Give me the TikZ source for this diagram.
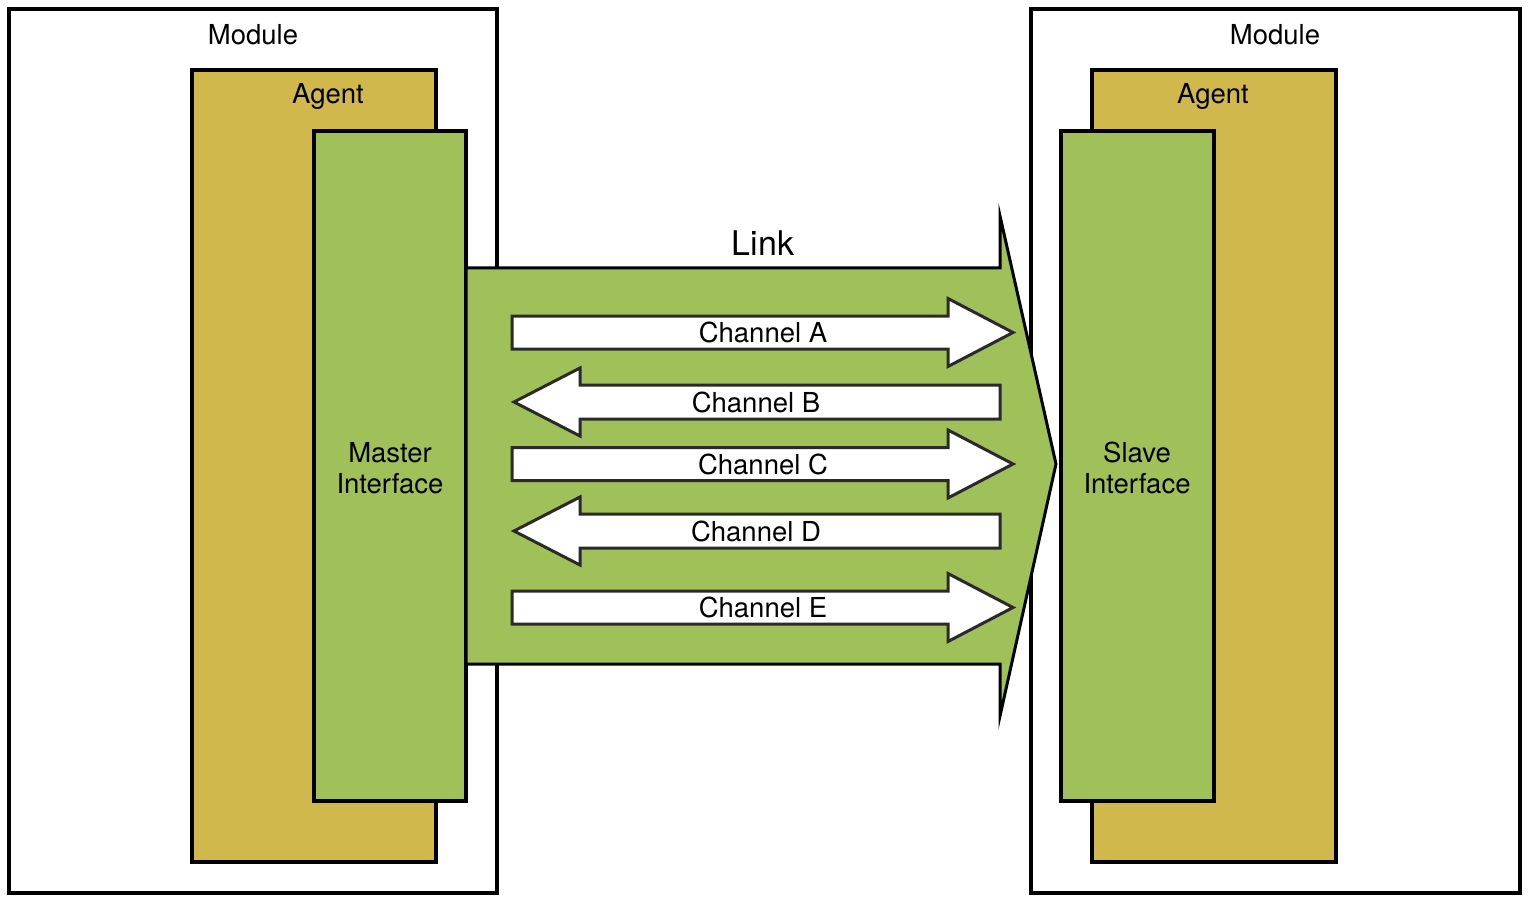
\documentclass[tikz,border=0pt]{standalone}
\usepackage{fontspec}
\setmainfont{TeX Gyre Heros}
\definecolor{agentgold}{HTML}{D0B84C}
\definecolor{ifgreen}{HTML}{A0C15A}
\definecolor{chanline}{HTML}{2A2A2A}
\begin{document}
\begin{tikzpicture}[x=1pt,y=-1pt,
  box/.style={draw=black,line width=4pt,rectangle,inner sep=0pt,anchor=center},
  modulebox/.style={box,fill=white},
  agentbox/.style={box,fill=agentgold},
  ifbox/.style={box,fill=ifgreen},
  linkshape/.style={draw=black,line width=3pt,fill=ifgreen,line join=miter},
  chanshape/.style={draw=chanline,line width=3pt,fill=white,line join=miter},
  txt/.style={inner sep=0pt,font=\fontsize{27.5}{31}\selectfont,align=center},
  bigtxt/.style={inner sep=0pt,font=\fontsize{34}{38}\selectfont}]
\useasboundingbox (0,0) rectangle (1532,904);

% Left module with agent and master interface
\node[modulebox,minimum width=488pt,minimum height=884pt] (modL) at (253,451) {};
\node[agentbox,minimum width=244pt,minimum height=792pt] (agentL) at (314,466) {};
\node[ifbox,minimum width=152pt,minimum height=670pt] (master) at (390,466) {};
\node[txt] (modLtxt) at (253,35) {Module};
\node[txt] (agentLtxt) at (328,96) {Agent};
\node[txt] (masterTxt) at (390,468) {Master\\Interface};

% Right module with agent and slave interface
\node[modulebox,minimum width=489pt,minimum height=884pt] (modR) at (1275.5,451) {};
\node[agentbox,minimum width=244pt,minimum height=792pt] (agentR) at (1214,466) {};
\node[ifbox,minimum width=153pt,minimum height=670pt] (slave) at (1137.5,466) {};
\node[txt] (modRtxt) at (1275,35) {Module};
\node[txt] (agentRtxt) at (1213,96) {Agent};
\node[txt] (slaveTxt) at (1137,468) {Slave\\Interface};

% The link: a wide block arrow from master to slave
\draw[linkshape] (466,268) -- (1000,268) -- (1000,216) -- (1056,464)
  -- (1000,716) -- (1000,664) -- (466,664) -- cycle;
\node[bigtxt] (linkTxt) at (763,243) {Link};

% Channels pointing to the slave
\foreach \c/\n in {332.5/A,464/C,607.5/E}{
  \draw[chanshape] (512,\c-16.5) -- (948,\c-16.5) -- (948,\c-34) -- (1013,\c)
    -- (948,\c+34) -- (948,\c+16.5) -- (512,\c+16.5) -- cycle;
  \node[txt] (chan\n) at (763,\c) {Channel \n};
}
% Channels pointing to the master
\foreach \c/\n in {402/B,531/D}{
  \draw[chanshape] (1000,\c-17) -- (580,\c-17) -- (580,\c-34) -- (514,\c)
    -- (580,\c+34) -- (580,\c+17) -- (1000,\c+17) -- cycle;
  \node[txt] (chan\n) at (756,\c) {Channel \n};
}
\end{tikzpicture}
\end{document}
